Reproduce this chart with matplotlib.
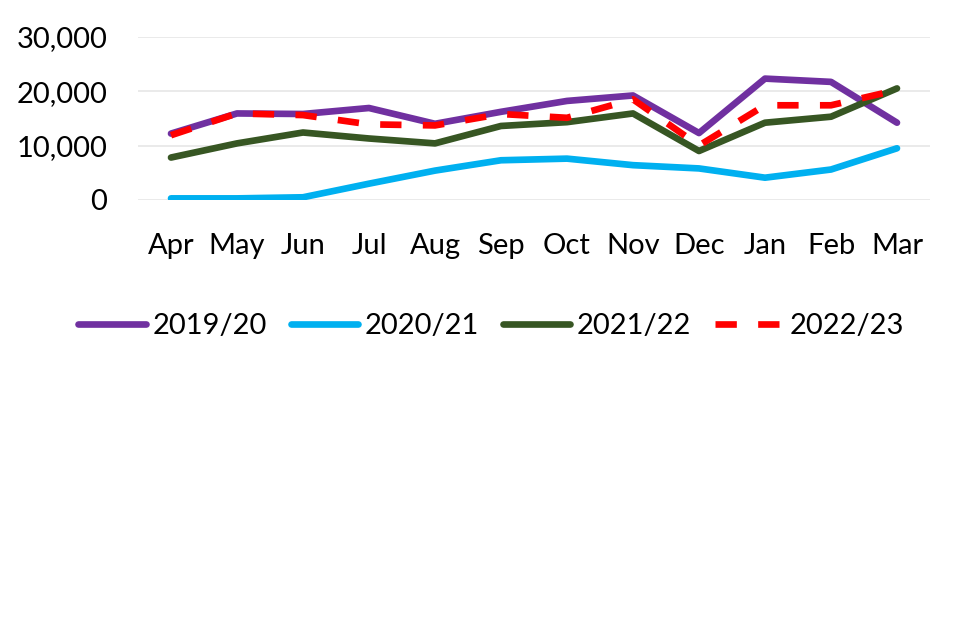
import matplotlib
matplotlib.use("Agg")
import matplotlib.pyplot as plt
from matplotlib.ticker import FuncFormatter

months = ["Apr", "May", "Jun", "Jul", "Aug", "Sep", "Oct", "Nov", "Dec", "Jan", "Feb", "Mar"]
series_names = ["2019/20", "2020/21", "2021/22", "2022/23"]
v2019 = [12200, 15900, 15800, 16900, 14000, 16200, 18200, 19200, 12300, 22300, 21700, 14200]
v2020 = [300, 300, 500, 3000, 5400, 7300, 7600, 6400, 5800, 4100, 5600, 9500]
v2021 = [7800, 10400, 12400, 11300, 10400, 13600, 14300, 15900, 9000, 14200, 15300, 20500]
v2022 = [11900, 15900, 15600, 13900, 13700, 15800, 15100, 18500, 10000, 17400, 17400, 20200]
yticks = [0, 10000, 20000, 30000]

plt.rcParams['font.family'] = ['Lato', 'DejaVu Sans']

fig = plt.figure(figsize=(9.6, 6.4), dpi=100)
ax = fig.add_axes([138/960, 1-200/640, (930-138)/960, (200-36.7)/640])

x = list(range(len(months)))
lw = 4.8
ax.plot(x, v2019, color="#7030A0", lw=lw, solid_capstyle="round", label=series_names[0], zorder=3)
ax.plot(x, v2020, color="#00B0F0", lw=lw, solid_capstyle="round", label=series_names[1], zorder=3)
ax.plot(x, v2021, color="#375623", lw=lw, solid_capstyle="round", label=series_names[2], zorder=3)
ax.plot(x, v2022, color="#FF0000", lw=lw, dashes=(3.2, 3.2), label=series_names[3], zorder=4)

ax.set_xlim(-0.5, len(months) - 0.5)
ax.set_ylim(0, 30000)
ax.set_yticks(yticks)
ax.yaxis.set_major_formatter(FuncFormatter(lambda v, p: f"{int(v):,}"))
ax.set_xticks(x)
ax.set_xticklabels(months)
for s in ax.spines.values():
    s.set_visible(False)
ax.grid(axis="y", color="#E6E6E6", lw=1.2, zorder=0)
ax.tick_params(axis="both", length=0, labelsize=21, colors="black")
ax.tick_params(axis="y", pad=22)
ax.tick_params(axis="x", pad=24)

leg = fig.legend(loc="center", bbox_to_anchor=(491/960, 1-326/640), ncol=4, frameon=False,
                 fontsize=21, handlelength=2.3, handletextpad=0.25, columnspacing=0.8)

fig.savefig("out.png", dpi=100)
